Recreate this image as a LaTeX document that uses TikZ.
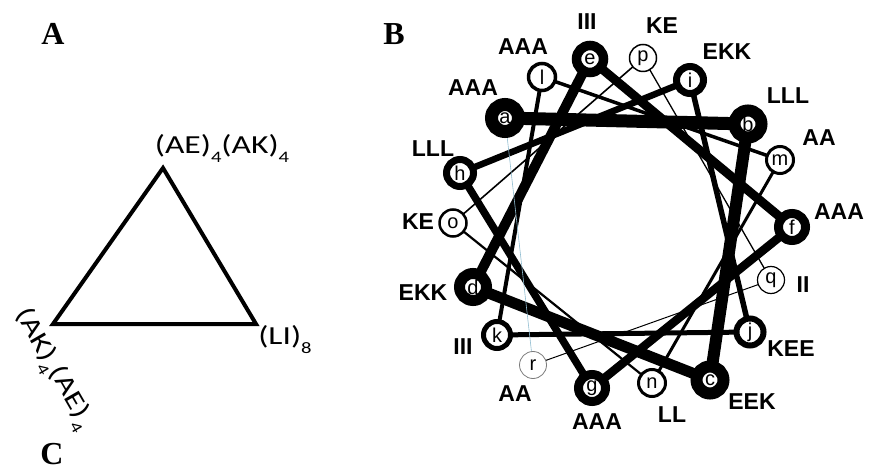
\documentclass[tikz,border=0pt]{standalone}
\usepackage{fontspec}
\setmainfont{Liberation Serif}
\newfontfamily\wheelfont{Liberation Sans}
\newfontfamily\trifont{Carlito}
\usetikzlibrary{backgrounds}
\definecolor{wrapblue}{HTML}{8FBCD0}
\definecolor{faintring}{HTML}{7A7A7A}
\newcommand{\lowsub}[1]{\raisebox{-9pt}{\fontsize{16}{16}\selectfont #1}}

\begin{document}
\begin{tikzpicture}[x=1pt, y=1pt,
  res/.style={circle, draw, fill=white, inner sep=0pt, minimum size=27pt, line width=#1, font=\wheelfont\fontsize{20}{20}\selectfont},
  lab/.style={inner sep=0pt, font=\wheelfont\bfseries\fontsize{23}{23}\selectfont},
  bond/.style={line width=#1},
  tri/.style={inner sep=0pt, font=\trifont\fontsize{26}{26}\selectfont},
  panel/.style={inner sep=0pt, anchor=base, font=\bfseries\fontsize{32}{32}\selectfont}
]
  \useasboundingbox (0,0) rectangle (869,466);

  % panel letters
  \node[panel] (panA) at (53,421) {A};
  \node[panel] (panB) at (394,421) {B};
  \node[panel] (panC) at (52,2)   {C};

  % A: triangle
  \coordinate (top) at (163,298);
  \coordinate (bl)  at (53,142);
  \coordinate (br)  at (256,142);
  \draw[line width=4pt] (top) -- (br) -- (bl) -- cycle;
  \node[tri] (topl) at (222,318) {\scalebox{1.29}[1]{(AE)\lowsub{4}(AK)\lowsub{4}}};
  \node[tri] (rightl) at (285,126) {\scalebox{1.29}[1]{(LI)\lowsub{8}}};
  \node[tri, rotate=-60] (leftl) at (53,97) {\scalebox{1.29}[1]{(AK)\lowsub{4}(AE)\lowsub{4}}};

  % B: helical wheel
  \node[res=13pt]  (a) at (505,348) {a};
  \node[res=12pt]  (b) at (748,342) {b};
  \node[res=12pt]  (c) at (710,86)  {c};
  \node[res=11pt]  (d) at (473,179) {d};
  \node[res=9.5pt] (e) at (590,407) {e};
  \node[res=9pt]   (f) at (792,239) {f};
  \node[res=9pt]   (g) at (592,78)  {g};
  \node[res=7pt]   (h) at (460,293) {h};
  \node[res=7pt]   (i) at (690,386) {i};
  \node[res=6pt]   (j) at (750,134) {j};
  \node[res=5pt]   (k) at (497,131) {k};
  \node[res=3.5pt] (l) at (542,389) {l};
  \node[res=3pt]   (m) at (780,306) {m};
  \node[res=3pt]   (n) at (652,83)  {n};
  \node[res=2.5pt] (o) at (453,243) {o};
  \node[res=1.5pt] (p) at (643,408) {p};
  \node[res=1.2pt] (q) at (771,186) {q};
  \node[res=0.8pt, draw=faintring] (r) at (533,101) {r};

  \begin{scope}[on background layer]
    \draw[bond=13pt]   (a.center) -- (b.center);
    \draw[bond=12pt]   (b.center) -- (c.center);
    \draw[bond=11pt]   (c.center) -- (d.center);
    \draw[bond=10pt]   (d.center) -- (e.center);
    \draw[bond=9pt]    (e.center) -- (f.center);
    \draw[bond=8.5pt]  (f.center) -- (g.center);
    \draw[bond=7.5pt]  (g.center) -- (h.center);
    \draw[bond=6.5pt]  (h.center) -- (i.center);
    \draw[bond=5.5pt]  (i.center) -- (j.center);
    \draw[bond=5pt]    (j.center) -- (k.center);
    \draw[bond=4pt]    (k.center) -- (l.center);
    \draw[bond=3.5pt]  (l.center) -- (m.center);
    \draw[bond=3pt]    (m.center) -- (n.center);
    \draw[bond=2.2pt]  (n.center) -- (o.center);
    \draw[bond=1.6pt]  (o.center) -- (p.center);
    \draw[bond=1.3pt]  (p.center) -- (q.center);
    \draw[bond=1pt]    (q.center) -- (r.center);
    \draw[bond=0.6pt, wrapblue] (r.center) -- (a.center);
  \end{scope}

  % residue labels
  \node[lab] (la) at (473,378) {AAA};
  \node[lab] (lb) at (788,370) {LLL};
  \node[lab] (lc) at (752,64)  {EEK};
  \node[lab] (ld) at (423,173) {EKK};
  \node[lab] (le) at (587,444) {III};
  \node[lab] (lf) at (839,254) {AAA};
  \node[lab] (lg) at (597,44)  {AAA};
  \node[lab] (lh) at (433,317) {LLL};
  \node[lab] (li) at (727,414) {EKK};
  \node[lab] (lj) at (791,117) {KEE};
  \node[lab] (lk) at (463,119) {III};
  \node[lab] (ll) at (523,419) {AAA};
  \node[lab] (lm) at (819,328) {AA};
  \node[lab] (ln) at (672,51)  {LL};
  \node[lab] (lo) at (418,244) {KE};
  \node[lab] (lp) at (662,440) {KE};
  \node[lab] (lq) at (803,181) {II};
  \node[lab] (lr) at (515,72)  {AA};
\end{tikzpicture}
\end{document}
